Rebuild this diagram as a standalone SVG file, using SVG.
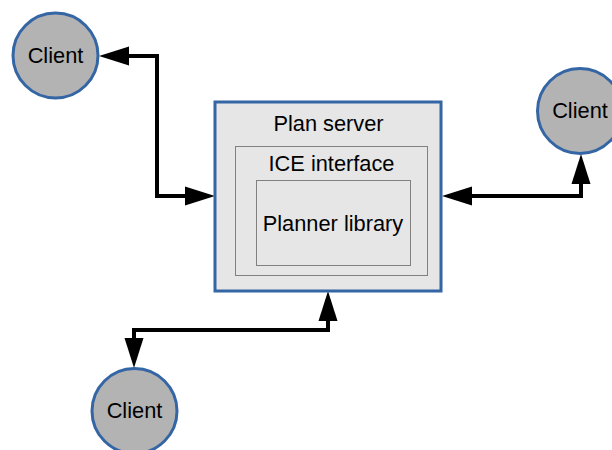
<svg xmlns="http://www.w3.org/2000/svg" width="612" height="450" viewBox="0 0 612 450">
  <defs>
    <style>
      .client circle { fill: #b3b3b3; stroke: #3465a4; stroke-width: 3; }
      .label { font-family: "Liberation Sans", Arial, sans-serif; font-size: 21.8px; fill: #000; text-anchor: middle; }
      .server { fill: #e6e6e6; stroke: #3465a4; stroke-width: 3; }
      .inner { fill: #e6e6e6; stroke: #808080; stroke-width: 1; }
      .link { fill: none; stroke: #000; stroke-width: 4; stroke-linejoin: miter; }
    </style>
    <marker id="head" markerUnits="userSpaceOnUse" markerWidth="32" markerHeight="22"
            viewBox="0 -11 32 22" refX="0" refY="0" orient="auto-start-reverse" overflow="visible">
      <path d="M0,-9.5 L30,0 L0,9.5 z" fill="#000"/>
    </marker>
  </defs>

  <rect width="612" height="450" fill="#fff"/>

  <!-- connectors -->
  <g id="connectors">
    <path class="link" d="M129,56 H157 V196 H185" marker-start="url(#head)" marker-end="url(#head)"/>
    <path class="link" d="M472,196 H581 V184" marker-start="url(#head)" marker-end="url(#head)"/>
    <path class="link" d="M328,321 V330 H134 V338" marker-start="url(#head)" marker-end="url(#head)"/>
  </g>

  <!-- server with nested layers -->
  <g id="plan-server">
    <rect class="server" x="215" y="102" width="226" height="189"/>
    <text class="label" x="328.5" y="131">Plan server</text>
  </g>
  <g id="ice-interface">
    <rect class="inner" x="235.5" y="146.5" width="192" height="129"/>
    <text class="label" x="331.5" y="170.5">ICE interface</text>
  </g>
  <g id="planner-library">
    <rect class="inner" x="256.5" y="180.5" width="154" height="85"/>
    <text class="label" x="333" y="230.5">Planner library</text>
  </g>

  <!-- clients -->
  <g id="client-top-left" class="client">
    <circle cx="55.5" cy="55.5" r="42.5"/>
    <text class="label" x="55.5" y="63">Client</text>
  </g>
  <g id="client-right" class="client">
    <circle cx="580" cy="111" r="42.5"/>
    <text class="label" x="580" y="118">Client</text>
  </g>
  <g id="client-bottom" class="client">
    <circle cx="134.5" cy="411" r="42.5"/>
    <text class="label" x="134.5" y="418">Client</text>
  </g>
</svg>
